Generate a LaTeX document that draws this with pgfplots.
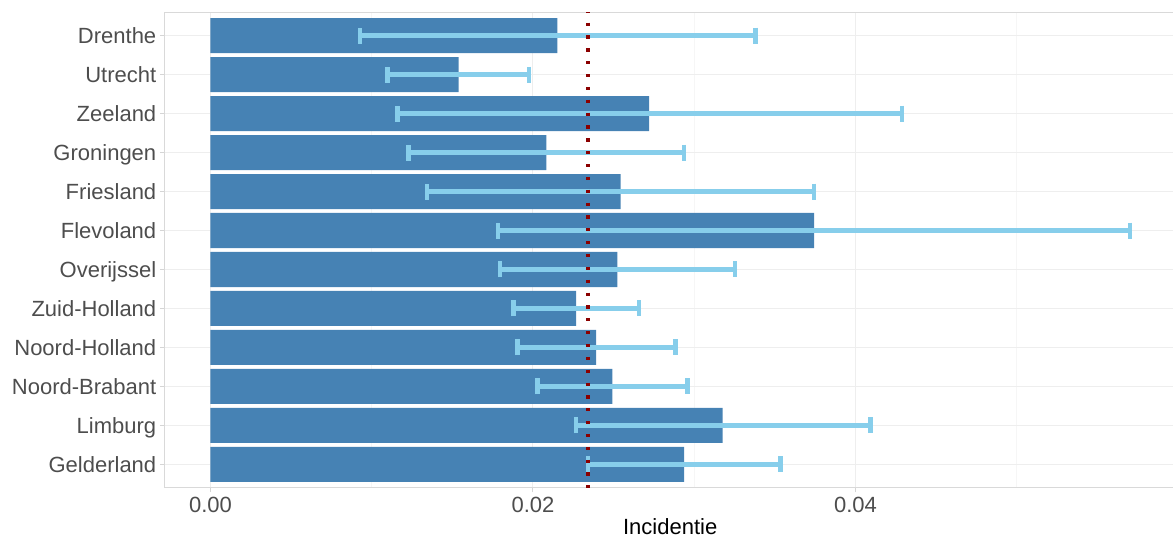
\documentclass[border=0pt]{standalone}
\usepackage{pgfplots}
\pgfplotsset{compat=1.18}
\usepackage{pgfplotstable}
\usepackage{fontspec}
\setmainfont{Liberation Sans}

\definecolor{steelblue}{HTML}{4682B4}
\definecolor{skyblue}{HTML}{87CEEB}
\definecolor{darkred}{HTML}{8B0000}
\definecolor{grey30}{HTML}{4D4D4D}
\definecolor{bordergrey}{HTML}{D9D9D9}
\definecolor{tickgrey}{HTML}{D5D5D5}
\definecolor{gridmajor}{HTML}{EEEEEE}
\definecolor{gridminor}{HTML}{F6F6F6}

% y = row (0 = top), lo / val / hi = lower bound, incidence, upper bound
\pgfplotstableread{
y  lo       val      hi
0  0.00927  0.02151  0.03381
1  0.01099  0.01539  0.01977
2  0.01161  0.02721  0.04287
3  0.01227  0.02083  0.02938
4  0.01344  0.02544  0.03744
5  0.01783  0.03744  0.05702
6  0.01795  0.02523  0.03253
7  0.01878  0.02268  0.02659
8  0.01905  0.02392  0.02883
9  0.02029  0.02492  0.02957
10 0.02265  0.03176  0.04092
11 0.02341  0.02938  0.03534
}\provdata

\begin{document}
\begin{tikzpicture}
\useasboundingbox (0,0) rectangle (879.75pt,402.75pt);
\begin{axis}[
    at={(123.375pt,36.975pt)}, anchor=south west,
    width=758.55pt, height=356.55pt, scale only axis,
    xmin=-0.00285, xmax=0.05987,
    ymin=-0.6, ymax=11.6, y dir=reverse,
    ytick={0,...,11},
    yticklabels={Drenthe,Utrecht,Zeeland,Groningen,Friesland,Flevoland,
        Overijssel,Zuid-Holland,Noord-Holland,Noord-Brabant,Limburg,Gelderland},
    xtick={0,0.02,0.04},
    minor xtick={0.01,0.03,0.05},
    scaled x ticks=false,
    /pgf/number format/assume math mode=true,
    xticklabel={\pgfmathprintnumber[fixed,fixed zerofill,precision=2]{\tick}},
    xtick pos=bottom, ytick pos=left,
    tick align=outside,
    major tick length=3.5pt, minor tick length=0pt,
    tick style={tickgrey, line width=0.75pt},
    axis line style={bordergrey, line width=1pt},
    xmajorgrids, xminorgrids, ymajorgrids,
    major grid style={gridmajor, line width=0.75pt},
    minor grid style={gridminor, line width=0.75pt},
    ticklabel style={font=\fontsize{16.5}{20}\selectfont, text=grey30, inner sep=0pt},
    xticklabel style={anchor=north},
    xticklabel shift=3.5pt,
    yticklabel style={anchor=base east, yshift=-5.9pt},
    yticklabel shift=2.5pt,
    xlabel={Incidentie},
    xlabel style={at={(axis description cs:0.5,0)}, anchor=base, yshift=-35.1pt,
        inner sep=0pt, font=\fontsize{16.5}{20}\selectfont, text=black},
]
\addplot[xbar, bar width=0.9, fill=steelblue, draw=none]
    table[x=val, y=y] \provdata;
\addplot[draw=none, mark=none, forget plot,
    error bars/.cd, x dir=both, x explicit, error mark=|,
    error bar style={draw=skyblue, line width=3.5pt},
    error mark options={draw=skyblue, line width=3.3pt, mark size=6pt}]
    table[x=val, y=y,
          x error plus expr=\thisrow{hi}-\thisrow{val},
          x error minus expr=\thisrow{val}-\thisrow{lo}] \provdata;
\addplot[darkred, line width=2.4pt, dash pattern=on 2.4pt off 7.24pt, dash phase=1.9pt]
    coordinates {(0.02341,-0.6) (0.02341,11.6)};
\end{axis}
\end{tikzpicture}
\end{document}
